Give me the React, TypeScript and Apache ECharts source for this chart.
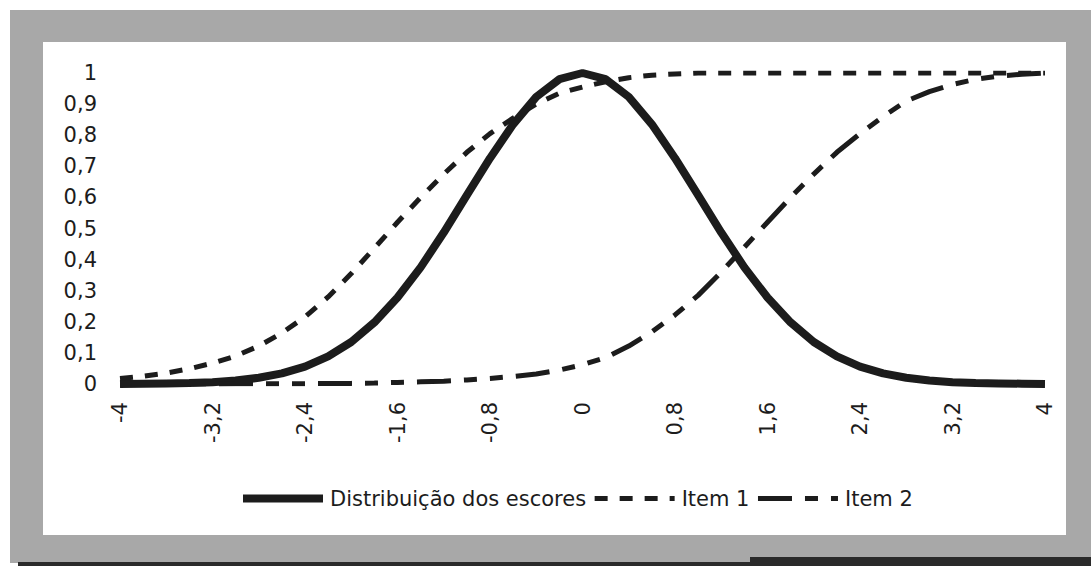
import React, { useEffect, useRef } from "react";
import * as echarts from "echarts";

const categories = [
  "-4", "-3,8", "-3,6", "-3,4", "-3,2", "-3", "-2,8", "-2,6", "-2,4", "-2,2",
  "-2", "-1,8", "-1,6", "-1,4", "-1,2", "-1", "-0,8", "-0,6", "-0,4", "-0,2",
  "0", "0,2", "0,4", "0,6", "0,8", "1", "1,2", "1,4", "1,6", "1,8",
  "2", "2,2", "2,4", "2,6", "2,8", "3", "3,2", "3,4", "3,6", "3,8", "4",
];

const distribuicao = [
  0.0, 0.001, 0.002, 0.003, 0.006, 0.011, 0.02, 0.034, 0.056, 0.089,
  0.135, 0.198, 0.278, 0.375, 0.487, 0.607, 0.726, 0.835, 0.923, 0.98,
  1.0, 0.98, 0.923, 0.835, 0.726, 0.607, 0.487, 0.375, 0.278, 0.198,
  0.135, 0.089, 0.056, 0.034, 0.02, 0.011, 0.006, 0.003, 0.002, 0.001, 0.0,
];

const item1 = [
  0.018, 0.025, 0.035, 0.049, 0.067, 0.09, 0.122, 0.164, 0.216, 0.28,
  0.355, 0.437, 0.52, 0.6, 0.675, 0.745, 0.805, 0.855, 0.9, 0.935,
  0.955, 0.972, 0.985, 0.993, 0.997, 1.0, 1.0, 1.0, 1.0, 1.0,
  1.0, 1.0, 1.0, 1.0, 1.0, 1.0, 1.0, 1.0, 1.0, 1.0, 1.0,
];

const item2 = [
  0.0, 0.0, 0.0, 0.0, 0.0, 0.001, 0.001, 0.001, 0.001, 0.002,
  0.002, 0.003, 0.005, 0.007, 0.009, 0.013, 0.018, 0.024, 0.032, 0.045,
  0.062, 0.085, 0.122, 0.168, 0.222, 0.285, 0.36, 0.44, 0.52, 0.6,
  0.675, 0.745, 0.805, 0.86, 0.91, 0.94, 0.963, 0.98, 0.99, 0.996, 1.0,
];

const seriesNames = ["Distribuição dos escores", "Item 1", "Item 2"];

const FONT = "DejaVu Sans";
const INK = "#1c1c1c";
const DASH_ITEM1 = [13, 12];
const DASH_ITEM2 = [34, 13, 13, 13, 13, 13];

function fmtY(v: number): string {
  if (v === 0) return "0";
  if (Math.abs(v - 1) < 1e-9) return "1";
  return v.toFixed(1).replace(".", ",");
}

export default function App() {
  const ref = useRef<HTMLDivElement>(null);
  useEffect(() => {
    if (!ref.current) return;
    const chart = echarts.init(ref.current, undefined, { renderer: "svg" });
    chart.setOption({
      animation: false,
      backgroundColor: "#ffffff",
      graphic: [
        { type: "rect", z: -10, shape: { x: 10, y: 10, width: 1081, height: 553 }, style: { fill: "#a8a8a8" } },
        { type: "rect", z: -9, shape: { x: 43, y: 42, width: 1023, height: 493 }, style: { fill: "#ffffff" } },
        { type: "rect", z: -9, shape: { x: 18, y: 562, width: 1073, height: 4 }, style: { fill: "#2a2a2a" } },
        { type: "rect", z: -9, shape: { x: 750, y: 557, width: 341, height: 9 }, style: { fill: "#2a2a2a" } },
      ],
      grid: { left: 120, right: 46, top: 73, bottom: 182, containLabel: false },
      legend: {
        left: 234,
        top: 483,
        itemWidth: 80,
        itemHeight: 12,
        itemGap: 6,
        data: [
          { name: seriesNames[0], lineStyle: { width: 8, type: "solid", color: INK } },
          { name: seriesNames[1], lineStyle: { width: 5, type: DASH_ITEM1, color: INK } },
          { name: seriesNames[2], lineStyle: { width: 5, type: DASH_ITEM2, color: INK } },
        ],
        textStyle: { fontFamily: FONT, fontSize: 21, color: INK, padding: [0, 0, 0, 2] },
        itemStyle: { opacity: 0 },
      },
      xAxis: {
        type: "category",
        data: categories,
        boundaryGap: false,
        axisLine: { show: false },
        axisTick: { show: false },
        splitLine: { show: false },
        axisLabel: {
          interval: 3,
          rotate: 90,
          margin: 18,
          fontFamily: FONT,
          fontSize: 21,
          color: INK,
        },
      },
      yAxis: {
        type: "value",
        min: 0,
        max: 1,
        interval: 0.1,
        axisLine: { show: false },
        axisTick: { show: false },
        splitLine: { show: false },
        axisLabel: {
          margin: 23,
          fontFamily: FONT,
          fontSize: 21,
          color: INK,
          formatter: (v: number) => fmtY(v),
        },
      },
      series: [
        {
          name: seriesNames[0],
          type: "line",
          data: distribuicao,
          symbol: "none",
          smooth: false,
          lineStyle: { color: INK, width: 8, type: "solid" },
          itemStyle: { color: INK },
          z: 3,
        },
        {
          name: seriesNames[1],
          type: "line",
          data: item1,
          symbol: "none",
          smooth: false,
          lineStyle: { color: INK, width: 5, type: DASH_ITEM1, cap: "butt" },
          itemStyle: { color: INK },
          z: 4,
        },
        {
          name: seriesNames[2],
          type: "line",
          data: item2,
          symbol: "none",
          smooth: false,
          lineStyle: { color: INK, width: 5, type: DASH_ITEM2, cap: "butt" },
          itemStyle: { color: INK },
          z: 4,
        },
      ],
    });
    return () => chart.dispose();
  }, []);
  return (
    <div
      ref={ref}
      style={{ position: "absolute", left: 0, top: 0, width: 1091, height: 566 }}
    />
  );
}
